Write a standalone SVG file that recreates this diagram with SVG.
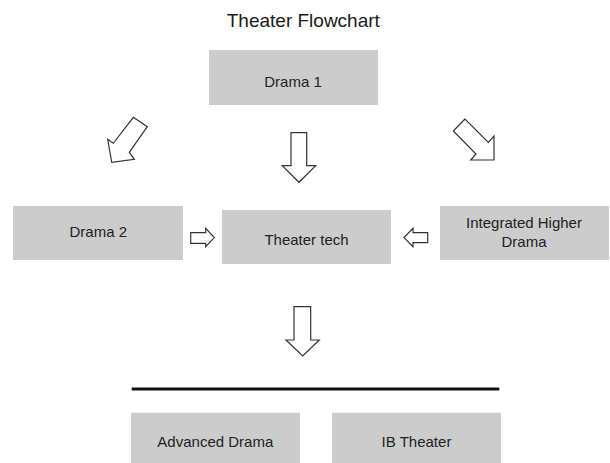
<svg xmlns="http://www.w3.org/2000/svg" width="610" height="463" viewBox="0 0 610 463">
<style>
.box{fill:#cccccc;stroke:none}
.lbl{font-family:"Liberation Sans",Arial,sans-serif;font-size:15px;fill:#222222;text-anchor:middle}
.title{font-family:"Liberation Sans",Arial,sans-serif;font-size:19px;fill:#1a1a1a;text-anchor:middle}
.arr{fill:#ffffff;stroke:#333333;stroke-width:1.2;stroke-linejoin:miter}
</style>
<rect width="610" height="463" fill="#ffffff"/>
<text class="title" x="303.3" y="26.5">Theater Flowchart</text>
<g id="drama1"><rect class="box" x="209" y="50" width="169" height="55"/><text class="lbl" x="293" y="86.5">Drama 1</text></g>
<g id="drama2"><rect class="box" x="13" y="206" width="170" height="54"/><text class="lbl" x="98.3" y="236.7">Drama 2</text></g>
<g id="theatertech"><rect class="box" x="222" y="210" width="169" height="54"/><text class="lbl" x="306.5" y="245">Theater tech</text></g>
<g id="integrated"><rect class="box" x="440" y="206" width="169" height="54"/><text class="lbl" x="524" y="228">Integrated Higher</text><text class="lbl" x="524" y="246.7">Drama</text></g>
<g id="advanced"><rect class="box" x="131" y="412.7" width="169" height="60"/><text class="lbl" x="215.3" y="446.7">Advanced Drama</text></g>
<g id="ib"><rect class="box" x="332" y="412.7" width="169" height="60"/><text class="lbl" x="416.5" y="446.7">IB Theater</text></g>
<g id="connectors">
<polygon class="arr" points="133.3,117.3 147.3,126.7 129.3,152.3 134.3,159.3 111.7,162.3 107.7,139.3 113.3,143.3"/>
<polygon class="arr" points="291,132.7 306.7,132.7 306.7,165.7 315.7,165.7 299,182.3 282.3,165.7 291,165.7"/>
<polygon class="arr" points="465,119 453.3,131 476,154 470.7,160 494,160 494,136 488.3,142.3"/>
<polygon class="arr" points="190.7,232.7 205.7,232.7 205.7,228.3 214.3,237.6 205.7,246.7 205.7,243.3 190.7,243.3"/>
<polygon class="arr" points="427.7,232.7 413,232.7 413,228.3 404,237.6 413,246.7 413,242.7 427.7,242.7"/>
<polygon class="arr" points="294,306.7 310.7,306.7 310.7,340 319.3,340 302.7,356 286,340 294,340"/>
<line x1="131.7" y1="389" x2="499.3" y2="389" stroke="#111111" stroke-width="3"/>
</g>
</svg>
